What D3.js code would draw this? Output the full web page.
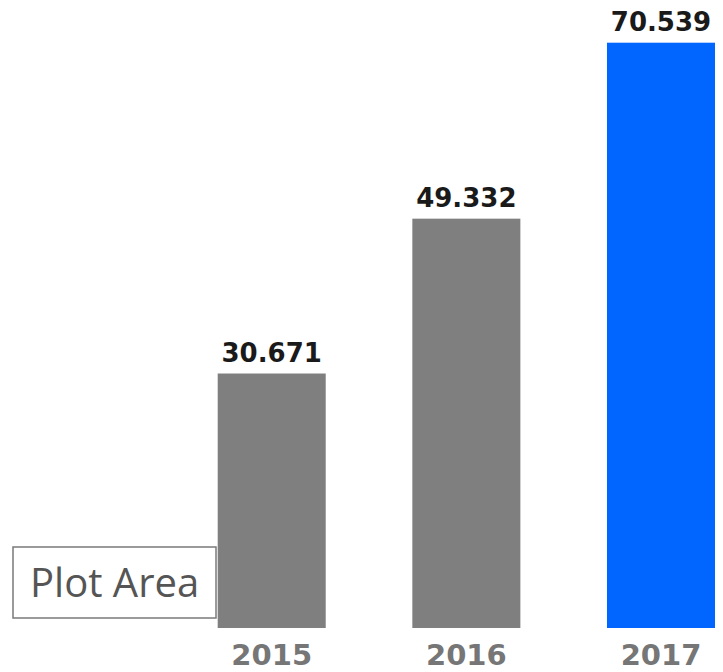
<!DOCTYPE html>
<html>
<head>
<meta charset="utf-8">
<script src="https://cdn.jsdelivr.net/npm/d3@7"></script>
<style>
  html, body { margin: 0; padding: 0; background: #fff; }
  svg { display: block; }
</style>
</head>
<body>
<script>
// chart values
const years = ["2015", "2016", "2017"];
const values = [30.671, 49.332, 70.539];
const barColors = ["#7f7f7f", "#7f7f7f", "#0066ff"];
const valueLabels = ["30.671", "49.332", "70.539"];

const width = 723, height = 672;
const baseY = 628;

const svg = d3.select("body").append("svg")
  .attr("width", width)
  .attr("height", height);

const x = d3.scaleBand()
  .domain(years)
  .range([217.7, 715])
  .paddingInner(0.445)
  .paddingOuter(0);

const y = d3.scaleLinear()
  .domain([0, 70.539])
  .range([baseY, 42.7]);

const rows = years.map((yr, i) => ({ yr: yr, v: values[i], c: barColors[i], label: valueLabels[i] }));

// bars
svg.selectAll("rect.bar")
  .data(rows)
  .join("rect")
  .attr("class", "bar")
  .attr("x", d => x(d.yr))
  .attr("width", x.bandwidth())
  .attr("y", d => y(d.v))
  .attr("height", d => y(0) - y(d.v))
  .attr("fill", d => d.c);

// value labels
svg.selectAll("text.val")
  .data(rows)
  .join("text")
  .attr("class", "val")
  .attr("x", d => x(d.yr) + x.bandwidth() / 2)
  .attr("y", d => y(d.v) - 12)
  .attr("text-anchor", "middle")
  .style("font-family", "'DejaVu Sans', Verdana, sans-serif")
  .style("font-weight", "bold")
  .style("font-size", "26px")
  .attr("fill", "#1a1a1a")
  .text(d => d.label);

// year axis
const axis = svg.append("g")
  .attr("transform", `translate(0,${baseY})`)
  .call(d3.axisBottom(x).tickSize(0).tickPadding(0));
axis.select(".domain").remove();
axis.selectAll("text")
  .attr("y", 37)
  .attr("dy", null)
  .style("font-family", "'DejaVu Sans', Verdana, sans-serif")
  .style("font-weight", "bold")
  .style("font-size", "29px")
  .attr("fill", "#767676");

// "Plot Area" tooltip box
const tip = svg.append("g");
tip.append("rect")
  .attr("x", 13)
  .attr("y", 547)
  .attr("width", 203)
  .attr("height", 71)
  .attr("fill", "#fff")
  .attr("stroke", "#7a7a7a")
  .attr("stroke-width", 1.5);
tip.append("text")
  .attr("x", 30)
  .attr("y", 597)
  .style("font-family", "'Open Sans', 'Noto Sans', sans-serif")
  .style("font-size", "40px")
  .attr("fill", "#555")
  .text("Plot Area");
</script>
</body>
</html>
